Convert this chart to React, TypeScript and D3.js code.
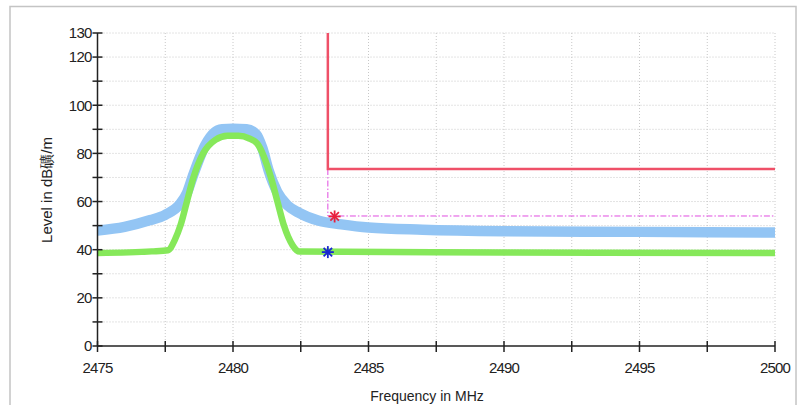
import React from "react";
import * as d3 from "d3";

const xTicksMajor = [2475, 2480, 2485, 2490, 2495, 2500];
const xTicksMinor = [2477.5, 2482.5, 2487.5, 2492.5, 2497.5];
const yTicksMajor = [0, 20, 40, 60, 80, 100, 120, 130];
const yTicksMinor = [10, 30, 50, 70, 90, 110];

// Peak trace (centre of the noisy band)
const blueFreq = [2475, 2476, 2476.95, 2477.5, 2478.05, 2478.3, 2478.5, 2478.98, 2479.3, 2479.6, 2480.0, 2480.5, 2480.85, 2481.08, 2481.32, 2481.63, 2482.0, 2482.44, 2483.17, 2484, 2485, 2487, 2490, 2495, 2500];
const blueLevel = [48, 49.5, 52.3, 54.5, 59, 63.5, 70, 83.5, 88.5, 90, 90.2, 90, 88, 82.3, 72.7, 64, 58.5, 55.3, 52, 50.5, 49.2, 48.3, 47.7, 47.4, 47.1];

// Average trace (centre of the noisy band)
const greenFreq = [2475, 2477.0, 2477.6, 2477.85, 2478.06, 2478.3, 2478.54, 2478.9, 2479.35, 2479.8, 2480.2, 2480.6, 2480.9, 2481.4, 2481.64, 2481.88, 2482.2, 2482.45, 2490, 2500];
const greenLevel = [38.6, 39.3, 39.8, 44, 50, 60, 70, 80, 85.6, 87.3, 87.3, 86.2, 84, 70, 60, 50, 41.8, 39.2, 38.8, 38.6];

const limitFreq = [2483.5, 2483.5, 2500];
const limitLevel = [130, 73.5, 73.5];
const avgLimitFreq = [2483.5, 2483.5, 2500];
const avgLimitLevel = [73.5, 54, 54];

const markerPeak = { f: 2483.75, v: 53.8 };
const markerAvg = { f: 2483.5, v: 39 };

const W = 800, H = 405;
const x = d3.scaleLinear().domain([2475, 2500]).range([97.5, 775]);
const y = d3.scaleLinear().domain([0, 130]).range([346, 33]);

function Star({ cx, cy, color }: { cx: number; cy: number; color: string }) {
  const r = 6;
  const angles = [0, 45, 90, 135];
  return (
    <g>
      {angles.map((a) => {
        const rad = (a * Math.PI) / 180;
        return (
          <line key={a} x1={cx - r * Math.cos(rad)} y1={cy - r * Math.sin(rad)} x2={cx + r * Math.cos(rad)} y2={cy + r * Math.sin(rad)} stroke={color} strokeWidth={1.8} />
        );
      })}
    </g>
  );
}

export default function App() {
  const line = d3.line<any>().x((d) => x(d[0])).y((d) => y(d[1]));
  const smooth = d3.line<any>().x((d) => x(d[0])).y((d) => y(d[1])).curve(d3.curveMonotoneX);
  const bluePath = smooth(blueFreq.map((f, i) => [f, blueLevel[i]])) || "";
  const greenPath = smooth(greenFreq.map((f, i) => [f, greenLevel[i]])) || "";
  const limitPath = line(limitFreq.map((f, i) => [f, limitLevel[i]])) || "";
  const avgPath = line(avgLimitFreq.map((f, i) => [f, avgLimitLevel[i]])) || "";
  const allX = [...xTicksMajor, ...xTicksMinor];
  const allY = [...yTicksMajor, ...yTicksMinor];
  const font = "'Liberation Sans', Arial, sans-serif";
  return (
    <svg width={W} height={H} style={{ position: "absolute", left: 0, top: 0, background: "#fff" }}>
      <rect x={0} y={0} width={W} height={H} fill="#fff" />
      <rect x={10} y={6.5} width={786} height={410} fill="none" stroke="#c4c4c4" strokeWidth={1.5} />
      {allX.filter((d) => d !== 2475).map((d) => (
        <line key={"gx" + d} x1={x(d)} x2={x(d)} y1={y(130)} y2={y(0)} stroke="#c8c8c8" strokeDasharray="1,2" />
      ))}
      {allY.filter((d) => d !== 0).map((d) => (
        <line key={"gy" + d} x1={x(2475)} x2={x(2500)} y1={y(d)} y2={y(d)} stroke="#c8c8c8" strokeDasharray="1,2" />
      ))}
      <path d={bluePath} fill="none" stroke="#93c5f4" strokeWidth={10.5} strokeLinejoin="round" />
      <path d={greenPath} fill="none" stroke="#86e85a" strokeWidth={6.5} strokeLinejoin="round" />
      <path d={avgPath} fill="none" stroke="#e04ce0" strokeWidth={1} strokeDasharray="6,2,1.5,2" />
      <path d={limitPath} fill="none" stroke="#ef5068" strokeWidth={2.5} />
      <Star cx={x(markerPeak.f)} cy={y(markerPeak.v)} color="#e8203c" />
      <Star cx={x(markerAvg.f)} cy={y(markerAvg.v)} color="#1a28d0" />
      <line x1={x(2475)} x2={x(2475)} y1={y(130)} y2={y(0)} stroke="#222" strokeWidth={1.5} />
      <line x1={x(2475)} x2={x(2500)} y1={y(0)} y2={y(0)} stroke="#222" strokeWidth={1.5} />
      {allY.map((d) => (
        <line key={"ty" + d} x1={x(2475) - 5} x2={x(2475) + 5} y1={y(d)} y2={y(d)} stroke="#222" strokeWidth={1.5} />
      ))}
      {allX.map((d) => (
        <line key={"tx" + d} x1={x(d)} x2={x(d)} y1={y(0) - 5} y2={y(0) + 6} stroke="#222" strokeWidth={1.5} />
      ))}
      {yTicksMajor.map((d) => (
        <text key={"ly" + d} x={x(2475) - 6} y={y(d)} dy="0.36em" textAnchor="end" fontFamily={font} fontSize={15} letterSpacing={-0.8} fill="#222">{d}</text>
      ))}
      {xTicksMajor.map((d) => (
        <text key={"lx" + d} x={x(d)} y={373} textAnchor="middle" fontFamily={font} fontSize={15} letterSpacing={-0.8} fill="#222">{d}</text>
      ))}
      <text x={427} y={401} textAnchor="middle" fontFamily={font} fontSize={14} fill="#222">Frequency in MHz</text>
      <text transform="translate(52,190) rotate(-90)" textAnchor="middle" fontFamily={font} fontSize={15} fill="#222">Level in dB礦/m</text>
    </svg>
  );
}
